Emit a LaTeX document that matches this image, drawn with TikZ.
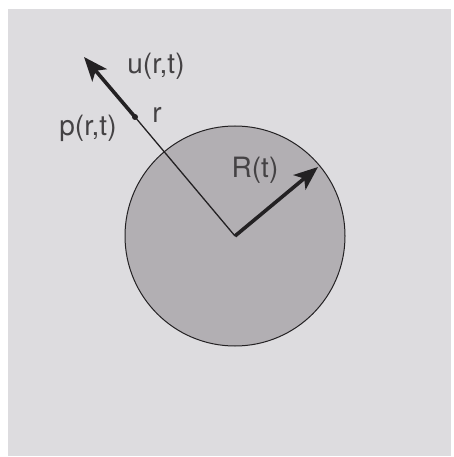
\documentclass[tikz,border=0pt]{standalone}
\usepackage{fontspec}
\setmainfont{TeX Gyre Heros}
\usetikzlibrary{arrows.meta}
\definecolor{bg}{RGB}{221,220,223}
\definecolor{disc}{RGB}{178,175,179}
\definecolor{ink}{RGB}{35,33,35}
\tikzset{
  lbl/.style={font=\fontsize{28}{30}\selectfont, text=ink!85, inner sep=0pt},
  thin/.style={draw=ink, line width=1.3pt},
  vec/.style={draw=ink, line width=3.6pt, -{Stealth[length=24pt,width=19pt,inset=6pt]}}
}
\begin{document}
\begin{tikzpicture}[x=1pt,y=-1pt]
\useasboundingbox (0,0) rectangle (453,457);
\fill[bg] (8,9) rectangle (451,456);
\node[circle, draw=ink, line width=1pt, fill=disc, minimum size=220pt, inner sep=0pt] (bubble) at (235,236) {};
\coordinate (c) at (235,236);
\coordinate (pt) at (135,117);
\coordinate (utip) at (84,57);
\coordinate (rtip) at (318,167);
\draw[thin] (c) -- (pt);
\draw[vec] (pt) -- (utip);
\fill[ink] (pt) circle (3pt);
\draw[vec] (c) -- (rtip);
\node[lbl] (ulbl) at (156,66) {u(r,t)};
\node[lbl] (plbl) at (88,128) {p(r,t)};
\node[lbl] (rlbl) at (157,115) {r};
\node[lbl] (Rlbl) at (255,170) {R(t)};
\end{tikzpicture}
\end{document}
